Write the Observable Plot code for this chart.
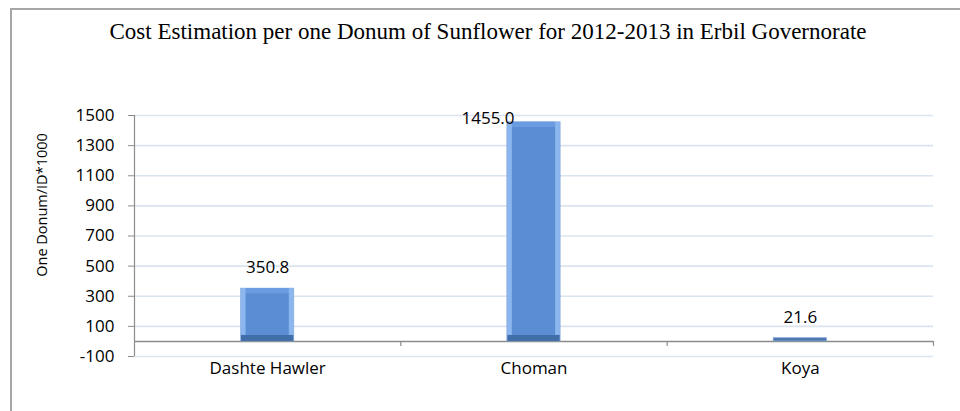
<!DOCTYPE html>
<html>
<head>
<meta charset="utf-8">
<script src="https://cdn.jsdelivr.net/npm/d3@7"></script>
<script src="https://cdn.jsdelivr.net/npm/@observablehq/plot@0.6"></script>
<style>
  html, body { margin: 0; padding: 0; background: #fff; }
  #wrap { position: relative; width: 960px; height: 411px; overflow: hidden; }
  #border { position: absolute; left: 10px; top: 8px; width: 960px; height: 420px;
            border-top: 2px solid #a6a6a6; border-left: 2px solid #a6a6a6; pointer-events: none; }
</style>
</head>
<body>
<div id="wrap"><div id="border"></div></div>
<script>
const title = "Cost Estimation per one Donum of Sunflower for 2012-2013 in Erbil Governorate";
const yLabel = "One Donum/ID*1000";
const categories = ["Dashte Hawler", "Choman", "Koya"];
const values = [350.8, 1455.0, 21.6];
const valueLabels = ["350.8", "1455.0", "21.6"];
const yTicks = [-100, 100, 300, 500, 700, 900, 1100, 1300, 1500];

const table = categories.map((c, i) => ({i, category: c, value: values[i], label: valueLabels[i]}));
const big = table.filter(d => d.value > 100);
const FONT = "'Open Sans', 'Noto Sans', sans-serif";

const chart = Plot.plot({
  width: 960,
  height: 411,
  marginLeft: 134,
  marginRight: 27,
  marginTop: 115,
  marginBottom: 55,
  style: {fontFamily: FONT, fontSize: "17px", color: "#000", background: "transparent"},
  x: {domain: [0, categories.length], axis: null},
  y: {domain: [-100, 1500], axis: null},
  marks: [
    Plot.ruleY(yTicks, {stroke: "#dae4f1", strokeWidth: 1.6}),
    Plot.axisY({ticks: yTicks, label: null, tickSize: 6, tickPadding: 14, stroke: "#8c8c8c", fill: "#000", fontSize: 17, tickFormat: d => String(d)}),
    Plot.ruleX([0], {stroke: "#8c8c8c", strokeWidth: 1.2}),
    Plot.ruleY([0], {stroke: "#8c8c8c", strokeWidth: 1.4}),
    Plot.ruleX(d3.range(1, categories.length + 1), {y1: 0, y2: 0, insetBottom: -5, stroke: "#8c8c8c", strokeWidth: 1.2}),
    Plot.axisX({ticks: categories.map((c, i) => i + 0.5), label: null, tickFormat: d => categories[Math.floor(d)], tickSize: 0, tickPadding: 5, fontSize: 17, fill: "#000"}),
    // bars: base (light bevel)
    Plot.rectY(table, {x1: d => d.i + 0.4, x2: d => d.i + 0.6, y1: 0, y2: "value", fill: d => d.value > 100 ? "#8bb6ee" : "#4f78ad", stroke: "#7ea6dc", strokeWidth: 0.6}),
    // top bevel
    Plot.rectY(big, {x1: d => d.i + 0.4, x2: d => d.i + 0.6, y1: "value", y2: "value", insetBottom: -5, insetLeft: 5, insetRight: 5, fill: "#6b9be0"}),
    // bottom bevel (dark)
    Plot.rectY(big, {x1: d => d.i + 0.4, x2: d => d.i + 0.6, y1: 0, y2: 0, insetTop: -6, insetLeft: 0.5, insetRight: 0.5, fill: "#416da8"}),
    // inner face
    Plot.rectY(big, {x1: d => d.i + 0.4, x2: d => d.i + 0.6, y1: 0, y2: "value", insetLeft: 5, insetRight: 5, insetTop: 5, insetBottom: 6, fill: "#5a8dd3"}),
    // value labels
    Plot.text(table.filter(d => d.category !== "Choman"), {x: d => d.i + 0.5, y: "value", text: "label", dy: -21, fontSize: 17, fill: "#000"}),
    Plot.text(table.filter(d => d.category === "Choman"), {x: d => d.i + 0.5, y: "value", text: "label", dx: -46, dy: -4, fontSize: 17, fill: "#000"}),
    // y label
    Plot.text([yLabel], {frameAnchor: "left", textAnchor: "middle", rotate: -90, dx: -92, dy: -31, fontSize: 14.5, fill: "#000"}),
    // title
    Plot.text([title], {frameAnchor: "top", lineAnchor: "middle", dx: -46, dy: -84, fontFamily: "'Liberation Serif', 'Times New Roman', serif", fontSize: 23, fill: "#000"})
  ]
});
document.getElementById("wrap").prepend(chart);
</script>
</body>
</html>
